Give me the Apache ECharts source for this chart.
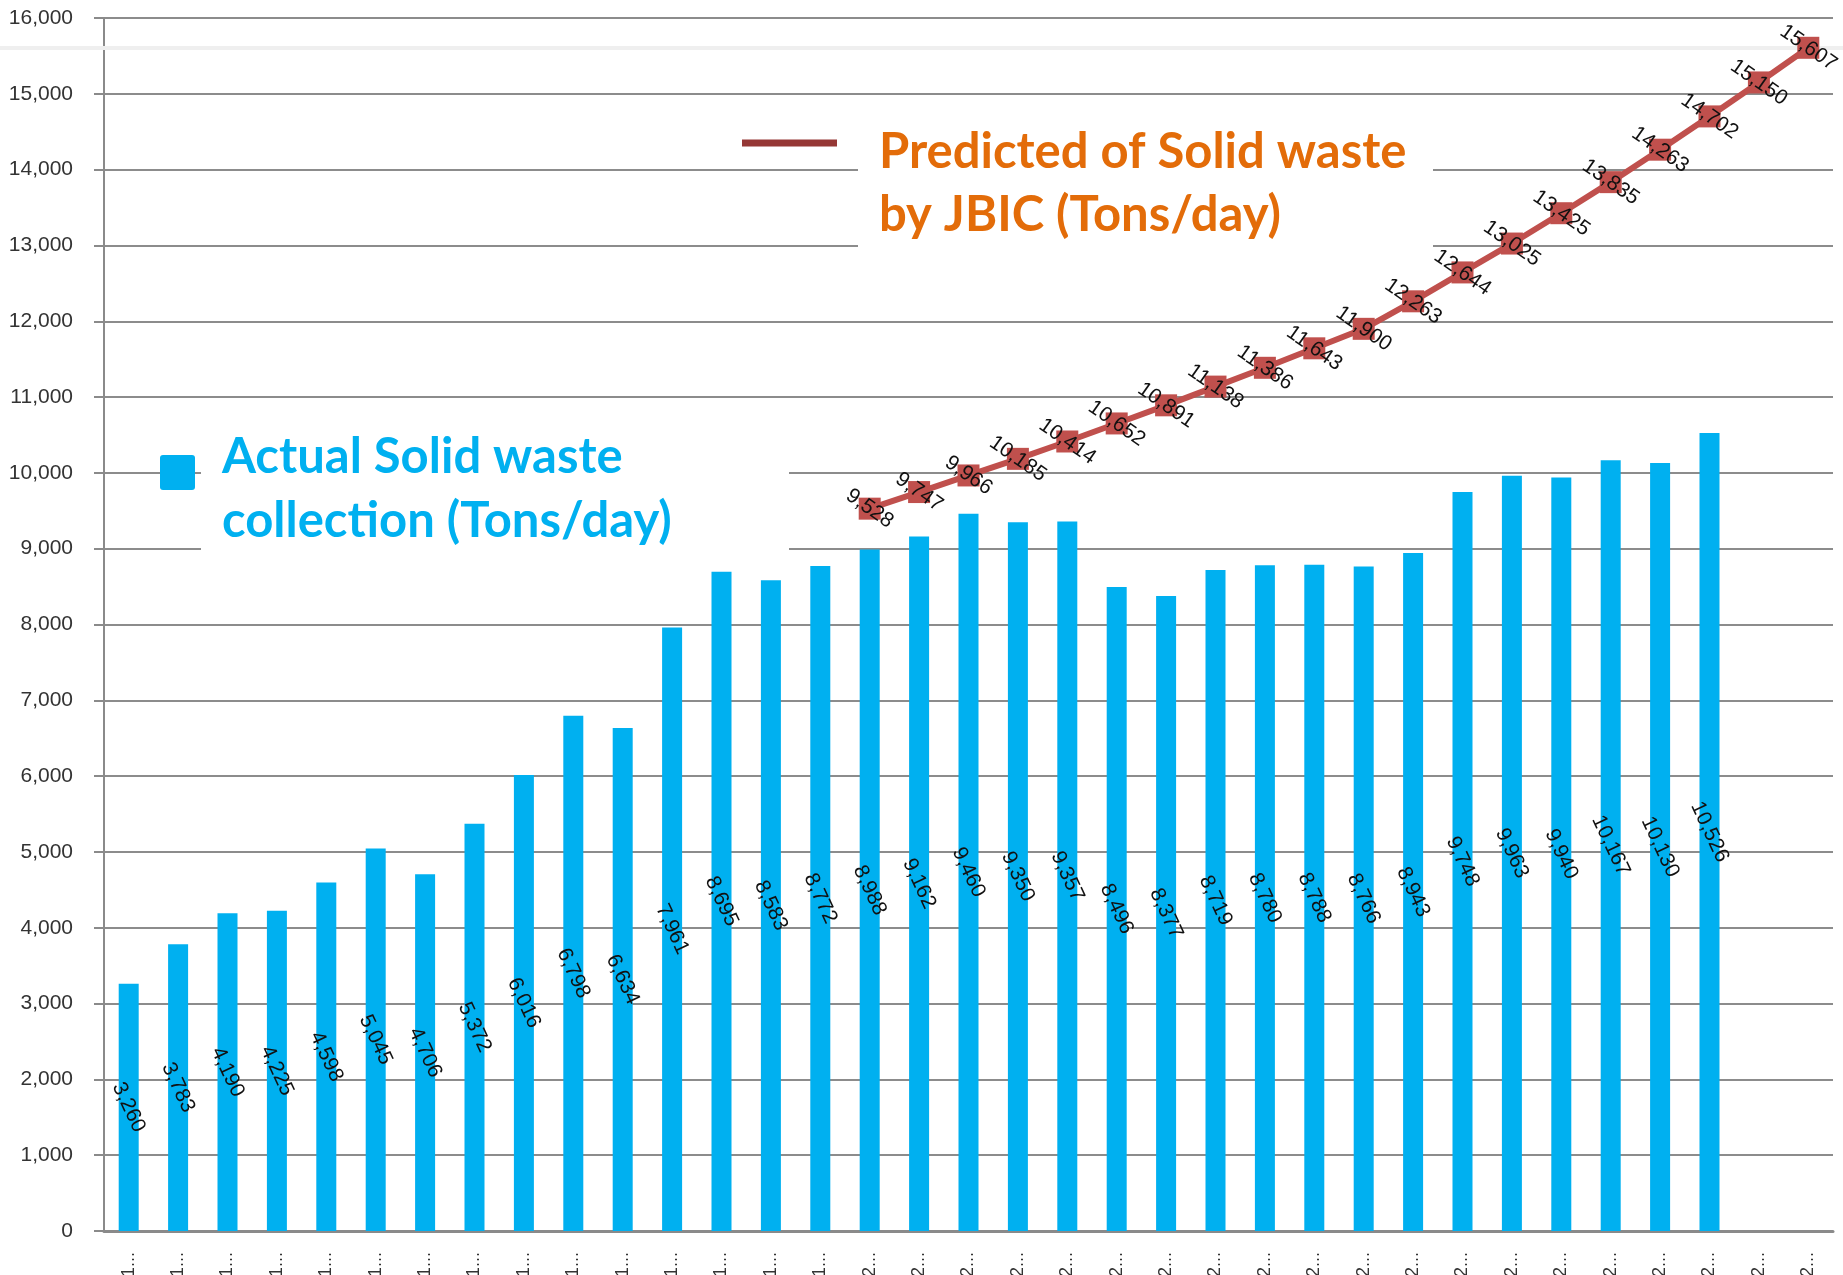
<!DOCTYPE html>
<html>
<head>
<meta charset="utf-8">
<title>Solid waste collection</title>
<script src="https://cdn.jsdelivr.net/npm/echarts@6/dist/echarts.min.js"></script>
<style>
  html, body { margin: 0; padding: 0; background: #fff; }
  #chart { width: 1843px; height: 1275px; }
</style>
</head>
<body>
<div id="chart"></div>
<script>
// categories (years, shown truncated as "1..." / "2..." like the source)
const years = [
  1985, 1986, 1987, 1988, 1989, 1990, 1991, 1992, 1993, 1994,
  1995, 1996, 1997, 1998, 1999, 2000, 2001, 2002, 2003, 2004,
  2005, 2006, 2007, 2008, 2009, 2010, 2011, 2012, 2013, 2014,
  2015, 2016, 2017, 2018, 2019
];

// actual collection, tons/day
const actual = [
  3260, 3783, 4190, 4225, 4598, 5045, 4706, 5372, 6016, 6798,
  6634, 7961, 8695, 8583, 8772, 8988, 9162, 9460, 9350, 9357,
  8496, 8377, 8719, 8780, 8788, 8766, 8943, 9748, 9963, 9940,
  10167, 10130, 10526
];

// JBIC prediction starts at this category index
const predictedStart = 15;
const predicted = [
  9528, 9747, 9966, 10185, 10414, 10652, 10891, 11138, 11386, 11643,
  11900, 12263, 12644, 13025, 13425, 13835, 14263, 14702, 15150, 15607
];

const yTicks = { min: 0, max: 16000, interval: 1000 };

const fmt = v => Number(v).toLocaleString('en-US');
const numFont = '"Liberation Sans", Arial, sans-serif';
const legendFont = 'Lato, "Open Sans", sans-serif';

const chart = echarts.init(document.getElementById('chart'));

const predictedData = years.map((_, i) =>
  i >= predictedStart ? predicted[i - predictedStart] : '-'
);

function legendLine(text, x, y, color) {
  return {
    type: 'text', z: 10, silent: true, x, y,
    style: {
      text,
      font: 'bold 49px ' + legendFont,
      fill: color,
      verticalAlign: 'middle',
      align: 'left'
    }
  };
}

chart.setOption({
  backgroundColor: '#ffffff',
  animation: false,
  grid: {
    left: 104, right: 10, top: 18, bottom: 44,
    containLabel: false,
    outerBoundsMode: 'none'
  },
  xAxis: {
    type: 'category',
    data: years,
    axisLine: { lineStyle: { color: '#8a8a8a', width: 3 } },
    axisTick: { show: false },
    axisLabel: {
      rotate: 90,
      margin: 21,
      fontSize: 18,
      fontFamily: numFont,
      color: '#333',
      formatter: v => String(v).charAt(0) + '...'
    }
  },
  yAxis: {
    type: 'value',
    min: yTicks.min,
    max: yTicks.max,
    interval: yTicks.interval,
    axisLine: { show: true, lineStyle: { color: '#8a8a8a', width: 2 } },
    axisTick: { show: true, length: 10, lineStyle: { color: '#8a8a8a', width: 2 } },
    axisLabel: {
      margin: 31,
      fontSize: 21,
      fontFamily: numFont,
      color: '#333',
      formatter: v => fmt(v)
    },
    splitLine: { lineStyle: { color: '#8c8c8c', width: 2 } }
  },
  series: [
    {
      name: 'Actual Solid waste collection (Tons/day)',
      type: 'bar',
      data: actual,
      barWidth: 20,
      z: 2,
      itemStyle: { color: '#00B0F0' },
      label: {
        show: true,
        position: 'inside',
        rotate: -65,
        fontSize: 21,
        fontFamily: numFont,
        color: '#111',
        formatter: p => fmt(p.value)
      }
    },
    {
      name: 'Predicted of Solid waste by JBIC (Tons/day)',
      type: 'line',
      data: predictedData,
      z: 4,
      symbol: 'rect',
      symbolSize: 22,
      lineStyle: { color: '#C0504D', width: 6 },
      itemStyle: { color: '#C0504D' },
      label: {
        show: true,
        position: 'inside',
        rotate: -35,
        fontSize: 21,
        fontFamily: numFont,
        color: '#111',
        formatter: p => fmt(p.value)
      }
    }
  ],
  graphic: [
    // faint horizontal band near the top of the plot
    { type: 'rect', z: 1, silent: true, shape: { x: 0, y: 46, width: 1843, height: 4 }, style: { fill: '#efefef' } },
    // white boxes behind the legend texts
    { type: 'rect', z: 1, silent: true, shape: { x: 858, y: 104, width: 575, height: 150 }, style: { fill: '#ffffff' } },
    { type: 'rect', z: 1, silent: true, shape: { x: 201, y: 438, width: 588, height: 122 }, style: { fill: '#ffffff' } },
    // predicted legend
    { type: 'rect', z: 10, silent: true, shape: { x: 742, y: 139.5, width: 95, height: 7 }, style: { fill: '#953735' } },
    legendLine('Predicted of Solid waste', 879, 152, '#E36C09'),
    legendLine('by JBIC (Tons/day)', 879, 215, '#E36C09'),
    // actual legend
    { type: 'rect', z: 10, silent: true, shape: { x: 160, y: 455, width: 35, height: 35, r: 3 }, style: { fill: '#00B0F0' } },
    legendLine('Actual Solid waste', 222, 457, '#00B0F0'),
    legendLine('collection (Tons/day)', 222, 521, '#00B0F0')
  ]
});
</script>
</body>
</html>
